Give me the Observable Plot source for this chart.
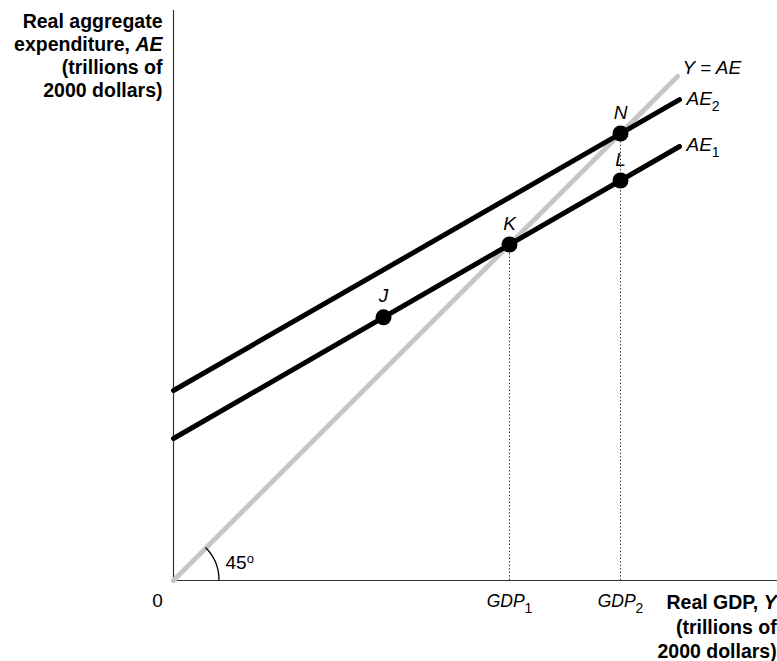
<!DOCTYPE html>
<html>
<head>
<meta charset="utf-8">
<script src="https://cdn.jsdelivr.net/npm/d3@7"></script>
<script src="https://cdn.jsdelivr.net/npm/@observablehq/plot@0.6"></script>
<style>
  html, body { margin: 0; padding: 0; background: #fff; }
  #chart { width: 777px; height: 661px; }
</style>
</head>
<body>
<div id="chart"></div>
<script>
// ---- data ----
const yaeX = [0, 12.6];          // 45-degree line Y = AE
const yaeY = [0, 12.6];
const ae1X = [0, 12.65];         // AE1
const ae1Y = [3.55, 10.85];
const ae2X = [0, 12.65];         // AE2
const ae2Y = [4.75, 12.02];
const lineLabels = ["*Y = AE*", "*AE*_2", "*AE*_1"];

const pointLabels = ["J", "K", "L", "N"];
const pointX = [5.25, 8.4, 11.175, 11.175];
const pointY = [6.58, 8.4, 10.0, 11.175];

const gdpValues = [8.4, 11.175];
const gdpLabels = ["GDP_1", "GDP_2"];
const gdpTops = [8.4, 11.175];

const yTitleLines = ["Real aggregate", "expenditure, *AE*", "(trillions of", "2000 dollars)"];
const xTitleLines = ["Real GDP, *Y*", "(trillions of", "2000 dollars)"];
const originLabel = ["0"];
const angleLabel = ["45^o"];
const arcRadius = 1.15;

// ---- tables built from the arrays ----
const toRows = (xs, ys) => xs.map((x, i) => ({x, y: ys[i]}));
const yae = toRows(yaeX, yaeY);
const ae1 = toRows(ae1X, ae1Y);
const ae2 = toRows(ae2X, ae2Y);
const points = pointLabels.map((label, i) => ({label, x: pointX[i], y: pointY[i]}));
const gdp = gdpValues.map((x, i) => ({x, top: gdpTops[i], label: gdpLabels[i]}));

const font = "'Liberation Sans', Arial, Helvetica, sans-serif";

const plot = Plot.plot({
  width: 777,
  height: 661,
  marginLeft: 173,
  marginRight: 0,
  marginTop: 10,
  marginBottom: 81,
  x: {domain: [0, 15.1], axis: null},
  y: {domain: [0, 14.25], axis: null},
  style: {fontFamily: font, background: "#fff", color: "#000", overflow: "visible"},
  marks: [
    // dotted drop lines
    Plot.ruleX(gdp, {x: "x", y1: 0, y2: "top", stroke: "#222", strokeWidth: 1, strokeDasharray: "1.3,2.2"}),
    // axis lines
    Plot.ruleX([0], {stroke: "#333", strokeWidth: 1.2}),
    Plot.ruleY([0], {stroke: "#333", strokeWidth: 1.2}),
    // GDP tick labels via the x axis
    Plot.axisX({ticks: gdpValues, tickFormat: (d) => gdpLabels[gdpValues.indexOf(d)], tickSize: 0, tickPadding: 14, fontSize: 17.5, label: null, fill: "#000"}),
    // 45-degree line
    Plot.line(yae, {x: "x", y: "y", stroke: "#c6c6c6", strokeWidth: 5, strokeLinecap: "round"}),
    // AE lines
    Plot.line(ae1, {x: "x", y: "y", stroke: "#000", strokeWidth: 5, strokeLinecap: "round"}),
    Plot.line(ae2, {x: "x", y: "y", stroke: "#000", strokeWidth: 5, strokeLinecap: "round"}),
    // points
    Plot.dot(points, {x: "x", y: "y", r: 8, fill: "#000", stroke: "none"}),
    Plot.text(points, {x: "x", y: "y", text: "label", dy: -21, fontSize: 19, fontStyle: "italic", fill: "#000"}),
    // line labels
    Plot.text([yae[1]], {x: "x", y: "y", text: () => lineLabels[0], textAnchor: "start", dx: 5, dy: -9, fontSize: 19, fill: "#000"}),
    Plot.text([ae2[1]], {x: "x", y: "y", text: () => lineLabels[1], textAnchor: "start", dx: 7, dy: -1, fontSize: 19, fill: "#000"}),
    Plot.text([ae1[1]], {x: "x", y: "y", text: () => lineLabels[2], textAnchor: "start", dx: 7, dy: -2, fontSize: 19, fill: "#000"}),
    // origin and angle
    Plot.text(originLabel, {x: -0.4, y: -0.5, text: (d) => d, fontSize: 19, fill: "#000"}),
    Plot.text(angleLabel, {x: 1.3, y: 0.43, text: (d) => d, textAnchor: "start", fontSize: 19, fill: "#000"}),
    // axis titles
    Plot.text(yTitleLines, {x: -0.275, y: (d, i) => 13.98 - i * 0.58, text: (d) => d, textAnchor: "end", fontSize: 19.5, fontWeight: "bold", fill: "#000"}),
    Plot.text(xTitleLines, {x: 15.08, y: (d, i) => -0.55 - i * 0.62, text: (d) => d, textAnchor: "end", fontSize: 19.5, fontWeight: "bold", fill: "#000"})
  ]
});

// italic, sized GDP tick labels
plot.querySelectorAll("g[aria-label='x-axis tick label'] text").forEach(t => {
  t.setAttribute("font-style", "italic");
  t.setAttribute("font-size", "17.5");
});

// simple markup: *italic*, _sub, ^sup
const NS = "http://www.w3.org/2000/svg";
function applyMarkup(el) {
  const s = el.textContent;
  if (!/[*_^]/.test(s)) return;
  el.textContent = "";
  const parts = s.split(/(\*[^*]+\*|_[^\s]|\^[^\s])/).filter(p => p !== "");
  let shift = 0;
  for (const p of parts) {
    const ts = document.createElementNS(NS, "tspan");
    let dy = 0;
    if (p.startsWith("*")) {
      ts.textContent = p.slice(1, -1);
      ts.setAttribute("font-style", "italic");
      dy = -shift; shift = 0;
    } else if (p.startsWith("_")) {
      ts.textContent = p.slice(1);
      ts.setAttribute("font-size", "14");
      ts.setAttribute("font-style", "normal");
      dy = 6 - shift; shift = 6;
    } else if (p.startsWith("^")) {
      ts.textContent = p.slice(1);
      ts.setAttribute("font-size", "13");
      dy = -6 - shift; shift = -6;
    } else {
      ts.textContent = p;
      dy = -shift; shift = 0;
    }
    if (dy) ts.setAttribute("dy", dy);
    el.appendChild(ts);
  }
}
plot.querySelectorAll("text").forEach(applyMarkup);

// 45-degree arc drawn with the plot's own scales
const sx = plot.scale("x"), sy = plot.scale("y");
const cx = sx.apply(0), cy = sy.apply(0);
const r = sx.apply(arcRadius) - cx;
const a = Math.PI / 4;
d3.select(plot).append("path")
  .attr("d", `M${cx + r},${cy} A${r},${r} 0 0 0 ${cx + r * Math.cos(a)},${cy - r * Math.sin(a)}`)
  .attr("fill", "none").attr("stroke", "#000").attr("stroke-width", 1.3);

document.getElementById("chart").appendChild(plot);
</script>
</body>
</html>
